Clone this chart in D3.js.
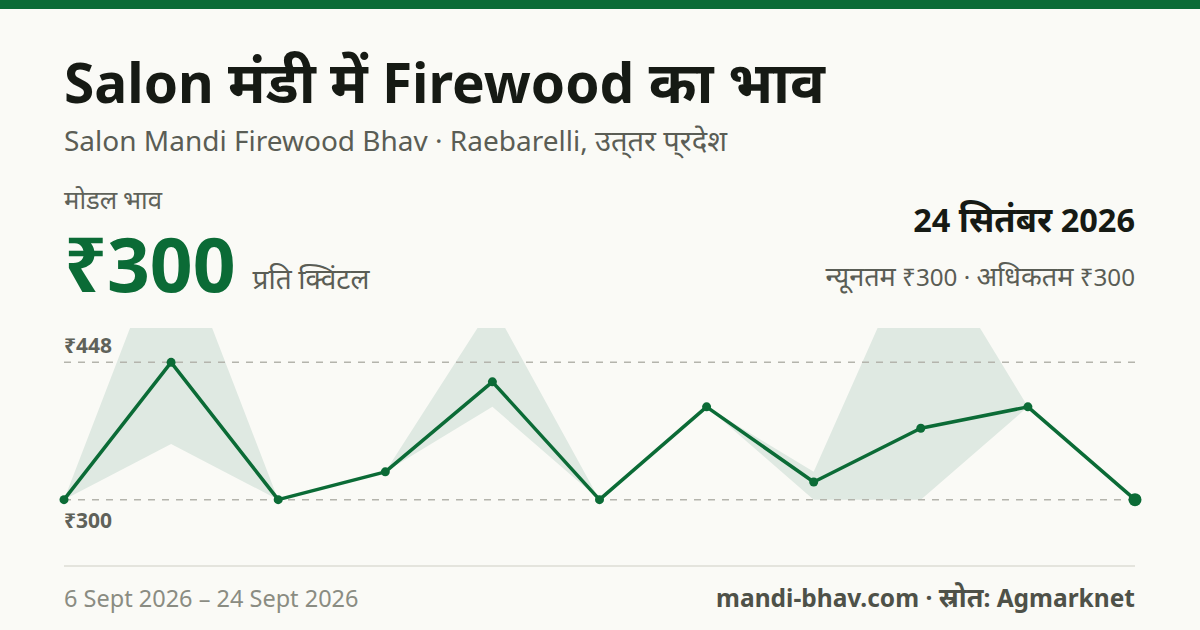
<!DOCTYPE html>
<html><head><meta charset="utf-8">
<script src="https://cdn.jsdelivr.net/npm/d3@7"></script>
<style>
html,body{margin:0;padding:0;background:#fafaf6;}
svg{display:block;font-family:"Noto Sans","Noto Sans Devanagari",sans-serif;}
</style></head><body>
<svg id="c" width="1200" height="630"></svg>
<script>
const dates = ["6 Sept","8 Sept","9 Sept","11 Sept","13 Sept","15 Sept","17 Sept","19 Sept","20 Sept","22 Sept","24 Sept"];
const modal = [300,448,300,330,427,300,400,319,377,400,300];
const minP  = [300,360,300,330,400,300,400,300,300,400,300];
const maxP  = [300,600,300,330,510,300,400,330,590,400,300];
const gridTicks = [448,300];

const green = "#0b6b36";
const svg = d3.select("#c");

// write text, drawing Devanagari runs at a slightly larger size
function txt(sel, str, size, dev){
  const runs = str.match(/[\u0900-\u097F\u200C\u200D]+|[^\u0900-\u097F\u200C\u200D]+/g);
  sel.attr("font-size", size);
  runs.forEach(r=>{
    const t = sel.append("tspan").text(r);
    if (/[\u0900-\u097F]/.test(r)) t.attr("font-size", size*dev);
  });
  return sel;
}

svg.append("rect").attr("width",1200).attr("height",630).attr("fill","#fafaf6");
svg.append("rect").attr("width",1200).attr("height",9).attr("fill",green);

txt(svg.append("text").attr("x",64).attr("y",103).attr("font-weight",700).attr("fill","#161a14"),
  "Salon मंडी में Firewood का भाव", 55, 1.05);
txt(svg.append("text").attr("x",64).attr("y",151).attr("fill","#5a5d55"),
  "Salon Mandi Firewood Bhav · Raebarelli, उत्\u200Cतर प्\u200Cरदेश", 28, 1.04);
txt(svg.append("text").attr("x",64).attr("y",209).attr("fill","#5f625a"), "मोडल भाव", 22, 1.17);
const big = svg.append("text").attr("x",64).attr("y",292).attr("font-size",75).attr("font-weight",700)
  .attr("fill",green).text("₹" + modal[modal.length-1]);
const bw = big.node().getComputedTextLength();
txt(svg.append("text").attr("x",64+bw+17).attr("y",289).attr("fill","#5a5d55"), "प्रति क्विंटल", 25, 1.12);
txt(svg.append("text").attr("x",1135).attr("y",232).attr("text-anchor","end").attr("font-weight",700)
  .attr("fill","#161a14"), "24 सितंबर 2026", 32.5, 1.06);
txt(svg.append("text").attr("x",1135).attr("y",286).attr("text-anchor","end").attr("fill","#5a5d55"),
  "न्यूनतम ₹" + minP[minP.length-1] + " · अधिकतम ₹" + maxP[maxP.length-1], 24.2, 1.12);

const x = d3.scalePoint().domain(dates).range([64,1135]);
const y = d3.scaleLinear().domain([263,485]).range([534,328]);

svg.append("clipPath").attr("id","clip").append("rect").attr("x",0).attr("y",328).attr("width",1200).attr("height",206);

const data = dates.map((d,i)=>({d, m:modal[i], lo:minP[i], hi:maxP[i]}));
const g = svg.append("g");
g.append("path").datum(data).attr("clip-path","url(#clip)")
  .attr("fill","#dfe9e2")
  .attr("d", d3.area().x(d=>x(d.d)).y0(d=>y(d.lo)).y1(d=>y(d.hi)));

gridTicks.forEach(t=>{
  g.append("line").attr("x1",64).attr("x2",1135).attr("y1",y(t)).attr("y2",y(t))
    .attr("stroke","#b4b4ac").attr("stroke-width",1.5).attr("stroke-dasharray","7,7");
});
g.append("text").attr("x",64).attr("y",y(448)-9).attr("font-size",21).attr("font-weight",700)
  .attr("fill","#5f625a").text("₹"+gridTicks[0]);
g.append("text").attr("x",64).attr("y",y(300)+28).attr("font-size",21).attr("font-weight",700)
  .attr("fill","#5f625a").text("₹"+gridTicks[1]);

g.append("path").datum(data).attr("fill","none").attr("stroke",green).attr("stroke-width",3.5)
  .attr("stroke-linejoin","round")
  .attr("d", d3.line().x(d=>x(d.d)).y(d=>y(d.m)));
g.selectAll("circle").data(data).join("circle")
  .attr("cx",d=>x(d.d)).attr("cy",d=>y(d.m))
  .attr("r",(d,i)=> i===data.length-1 ? 6.5 : 4.5).attr("fill",green);

svg.append("line").attr("x1",64).attr("x2",1135).attr("y1",566).attr("y2",566)
  .attr("stroke","#e4e4dd").attr("stroke-width",2);
svg.append("text").attr("x",64).attr("y",607).attr("font-size",23.5).attr("fill","#8a8c82")
  .text("6 Sept 2026 – 24 Sept 2026");
txt(svg.append("text").attr("x",1135).attr("y",607).attr("text-anchor","end").attr("font-weight",700)
  .attr("fill","#4e5148"), "mandi-bhav.com · स्रोत: Agmarknet", 24.5, 1.1);
</script>
</body></html>
